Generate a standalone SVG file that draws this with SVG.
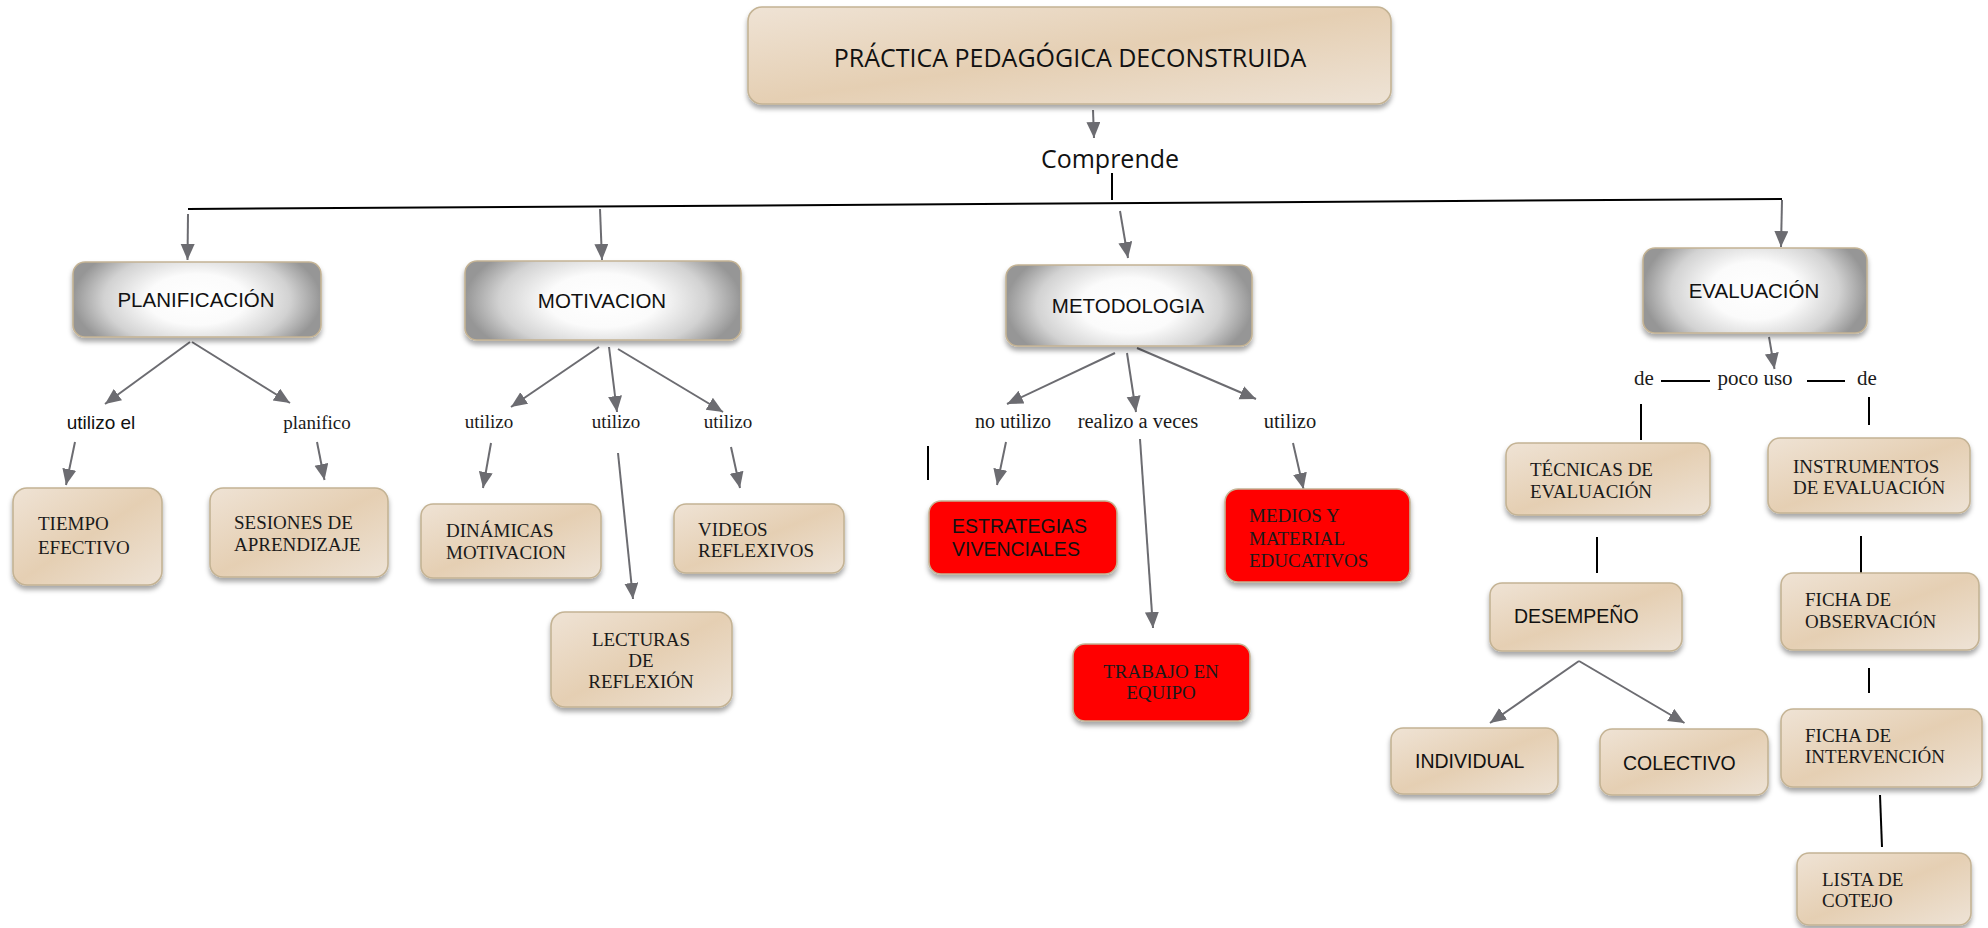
<svg xmlns="http://www.w3.org/2000/svg" width="1988" height="928" viewBox="0 0 1988 928">
<defs>
<style>
.bx{stroke:#c4b394;stroke-width:1.6;filter:url(#sh)}
.beige{fill:url(#gBeige)}
.silver{fill:url(#gSilver)}
.red{fill:#ff0000}
.sans{font-family:"Liberation Sans",Arial,sans-serif;fill:#111}
.serif{font-family:"Liberation Serif","Times New Roman",serif;fill:#1a1a1a}
.cal{font-family:"Open Sans","Noto Sans",sans-serif;fill:#111}
.con{stroke:#6c6c71;stroke-width:2;fill:none;marker-end:url(#ah)}
.blk{stroke:#000;stroke-width:2;fill:none}
</style>
<linearGradient id="gBeige" x1="0" y1="0" x2="1" y2="1">
<stop offset="0" stop-color="#efe3d5"/>
<stop offset="0.5" stop-color="#e5cfb3"/>
<stop offset="1" stop-color="#eee3d6"/>
</linearGradient>
<radialGradient id="gSilver" cx="0.5" cy="0.5" r="0.5" gradientTransform="translate(0.5 0.5) scale(1 1.7) translate(-0.5 -0.5)">
<stop offset="0" stop-color="#ffffff"/>
<stop offset="0.4" stop-color="#fbfbfb"/>
<stop offset="0.75" stop-color="#d2d2d2"/>
<stop offset="1" stop-color="#969696"/>
</radialGradient>
<filter id="sh" x="-10%" y="-10%" width="120%" height="130%">
<feDropShadow dx="0" dy="4" stdDeviation="2.5" flood-color="#000" flood-opacity="0.35"/>
</filter>
<marker id="ah" markerUnits="userSpaceOnUse" markerWidth="17" markerHeight="15" refX="16" refY="7" orient="auto">
<path d="M0,0 L16,7 L0,14 z" fill="#6c6c71"/>
</marker>
</defs>

<g id="connectors">
<line class="blk" x1="188" y1="209" x2="1782" y2="199" stroke-width="3"/>
<line class="blk" x1="1112" y1="173" x2="1112" y2="200" stroke-width="1.6"/>
<line class="blk" x1="928" y1="446" x2="928" y2="480"/>
<line class="blk" x1="1661" y1="381" x2="1710" y2="381"/>
<line class="blk" x1="1807" y1="381" x2="1845" y2="381"/>
<line class="blk" x1="1641" y1="404" x2="1641" y2="440"/>
<line class="blk" x1="1869" y1="397" x2="1869" y2="425"/>
<line class="blk" x1="1597" y1="537" x2="1597" y2="573"/>
<line class="blk" x1="1861" y1="536" x2="1861" y2="573"/>
<line class="blk" x1="1869" y1="668" x2="1869" y2="693"/>
<line class="blk" x1="1880" y1="795" x2="1882" y2="847"/>

<line class="con" x1="1093" y1="110" x2="1094" y2="138"/>
<line class="con" x1="188" y1="214" x2="187.5" y2="260"/>
<line class="con" x1="600" y1="209" x2="602" y2="260"/>
<line class="con" x1="1120" y1="211" x2="1128" y2="258"/>
<line class="con" x1="1782" y1="200" x2="1781" y2="247"/>
<line class="con" x1="190" y1="342" x2="105" y2="404"/>
<line class="con" x1="192" y1="342" x2="290" y2="403"/>
<line class="con" x1="75" y1="442" x2="66" y2="485"/>
<line class="con" x1="317" y1="442" x2="324.5" y2="480"/>
<line class="con" x1="599" y1="347" x2="511" y2="407"/>
<line class="con" x1="609" y1="347" x2="617" y2="412"/>
<line class="con" x1="618" y1="349" x2="723" y2="412"/>
<line class="con" x1="491" y1="443" x2="483" y2="488"/>
<line class="con" x1="618" y1="453" x2="633" y2="599"/>
<line class="con" x1="731" y1="447" x2="740" y2="488"/>
<line class="con" x1="1115" y1="353" x2="1007" y2="404"/>
<line class="con" x1="1127" y1="353" x2="1136" y2="412"/>
<line class="con" x1="1137" y1="348" x2="1256" y2="399"/>
<line class="con" x1="1006" y1="442" x2="997" y2="485"/>
<line class="con" x1="1140" y1="439" x2="1153" y2="628"/>
<line class="con" x1="1293" y1="443" x2="1303.5" y2="489"/>
<line class="con" x1="1769" y1="337" x2="1774.5" y2="369"/>
<line class="con" x1="1579" y1="661" x2="1490" y2="723"/>
<line class="con" x1="1579" y1="661" x2="1684.5" y2="723"/>
</g>

<g id="labels">
<text class="cal" x="1110" y="168" font-size="25" text-anchor="middle">Comprende</text>
<text class="sans" x="101" y="429" font-size="19" text-anchor="middle">utilizo el</text>
<text class="serif" x="317" y="429" font-size="19" text-anchor="middle">planifico</text>
<text class="serif" x="489" y="428" font-size="19" text-anchor="middle">utilizo</text>
<text class="serif" x="616" y="428" font-size="19" text-anchor="middle">utilizo</text>
<text class="serif" x="728" y="428" font-size="19" text-anchor="middle">utilizo</text>
<text class="serif" x="1013" y="428" font-size="20" text-anchor="middle">no utilizo</text>
<text class="serif" x="1138" y="428" font-size="20.5" text-anchor="middle">realizo a veces</text>
<text class="serif" x="1290" y="428" font-size="20.5" text-anchor="middle">utilizo</text>
<text class="serif" x="1634" y="385" font-size="21">de</text>
<text class="serif" x="1755" y="385" font-size="21" text-anchor="middle">poco uso</text>
<text class="serif" x="1857" y="385" font-size="21">de</text>
</g>

<g id="n-practica">
<rect class="bx beige" x="748" y="7" width="643" height="97" rx="14"/>
<text class="cal" x="1070" y="67" font-size="25" text-anchor="middle">PRÁCTICA PEDAGÓGICA DECONSTRUIDA</text>
</g>
<g id="n-planificacion">
<rect class="bx silver" x="73" y="262" width="248" height="75" rx="12"/>
<text class="sans" x="196" y="307" font-size="20.5" text-anchor="middle">PLANIFICACIÓN</text>
</g>
<g id="n-motivacion">
<rect class="bx silver" x="465" y="261" width="276" height="79" rx="12"/>
<text class="sans" x="602" y="308" font-size="20.5" text-anchor="middle">MOTIVACION</text>
</g>
<g id="n-metodologia">
<rect class="bx silver" x="1006" y="265" width="246" height="81" rx="12"/>
<text class="sans" x="1128" y="313" font-size="20.5" text-anchor="middle">METODOLOGIA</text>
</g>
<g id="n-evaluacion">
<rect class="bx silver" x="1643" y="248" width="224" height="85" rx="12"/>
<text class="sans" x="1754" y="298" font-size="20.5" text-anchor="middle">EVALUACIÓN</text>
</g>

<g id="n-tiempo">
<rect class="bx beige" x="13" y="488" width="149" height="97" rx="14"/>
<text class="serif" font-size="19"><tspan x="38" y="530">TIEMPO</tspan><tspan x="38" y="554">EFECTIVO</tspan></text>
</g>
<g id="n-sesiones">
<rect class="bx beige" x="210" y="488" width="178" height="89" rx="13"/>
<text class="serif" font-size="19"><tspan x="234" y="529">SESIONES DE</tspan><tspan x="234" y="551">APRENDIZAJE</tspan></text>
</g>
<g id="n-dinamicas">
<rect class="bx beige" x="421" y="504" width="180" height="74" rx="12"/>
<text class="serif" font-size="19"><tspan x="446" y="537">DINÁMICAS</tspan><tspan x="446" y="559">MOTIVACION</tspan></text>
</g>
<g id="n-videos">
<rect class="bx beige" x="674" y="504" width="170" height="69" rx="12"/>
<text class="serif" font-size="19"><tspan x="698" y="536">VIDEOS</tspan><tspan x="698" y="557">REFLEXIVOS</tspan></text>
</g>
<g id="n-lecturas">
<rect class="bx beige" x="551" y="612" width="181" height="95" rx="14"/>
<text class="serif" font-size="19" text-anchor="middle"><tspan x="641" y="646">LECTURAS</tspan><tspan x="641" y="667">DE</tspan><tspan x="641" y="688">REFLEXIÓN</tspan></text>
</g>
<g id="n-estrategias">
<rect class="bx red" x="929" y="501" width="188" height="73" rx="12"/>
<text class="sans" font-size="19.5"><tspan x="952" y="533">ESTRATEGIAS</tspan><tspan x="952" y="556">VIVENCIALES</tspan></text>
</g>
<g id="n-medios">
<rect class="bx red" x="1225" y="489" width="185" height="93" rx="13"/>
<text class="serif" font-size="19"><tspan x="1249" y="522">MEDIOS Y</tspan><tspan x="1249" y="545">MATERIAL</tspan><tspan x="1249" y="567">EDUCATIVOS</tspan></text>
</g>
<g id="n-trabajo">
<rect class="bx red" x="1073" y="644" width="177" height="77" rx="12"/>
<text class="serif" font-size="19" text-anchor="middle"><tspan x="1161" y="678">TRABAJO EN</tspan><tspan x="1161" y="699">EQUIPO</tspan></text>
</g>

<g id="n-tecnicas">
<rect class="bx beige" x="1506" y="443" width="204" height="72" rx="12"/>
<text class="serif" font-size="19"><tspan x="1530" y="476">TÉCNICAS DE</tspan><tspan x="1530" y="498">EVALUACIÓN</tspan></text>
</g>
<g id="n-instrumentos">
<rect class="bx beige" x="1768" y="438" width="202" height="75" rx="12"/>
<text class="serif" font-size="19"><tspan x="1793" y="473">INSTRUMENTOS</tspan><tspan x="1793" y="494">DE EVALUACIÓN</tspan></text>
</g>
<g id="n-desempeno">
<rect class="bx beige" x="1490" y="583" width="192" height="68" rx="12"/>
<text class="sans" x="1514" y="623" font-size="19.5">DESEMPEÑO</text>
</g>
<g id="n-ficha-obs">
<rect class="bx beige" x="1781" y="573" width="198" height="77" rx="12"/>
<text class="serif" font-size="19"><tspan x="1805" y="606">FICHA DE</tspan><tspan x="1805" y="628">OBSERVACIÓN</tspan></text>
</g>
<g id="n-individual">
<rect class="bx beige" x="1391" y="728" width="167" height="66" rx="12"/>
<text class="sans" x="1415" y="768" font-size="19.5">INDIVIDUAL</text>
</g>
<g id="n-colectivo">
<rect class="bx beige" x="1600" y="729" width="168" height="66" rx="12"/>
<text class="sans" x="1623" y="770" font-size="19.5">COLECTIVO</text>
</g>
<g id="n-ficha-int">
<rect class="bx beige" x="1781" y="709" width="201" height="78" rx="12"/>
<text class="serif" font-size="19"><tspan x="1805" y="742">FICHA DE</tspan><tspan x="1805" y="763">INTERVENCIÓN</tspan></text>
</g>
<g id="n-lista">
<rect class="bx beige" x="1797" y="853" width="174" height="72" rx="12"/>
<text class="serif" font-size="19"><tspan x="1822" y="886">LISTA DE</tspan><tspan x="1822" y="907">COTEJO</tspan></text>
</g>
</svg>
